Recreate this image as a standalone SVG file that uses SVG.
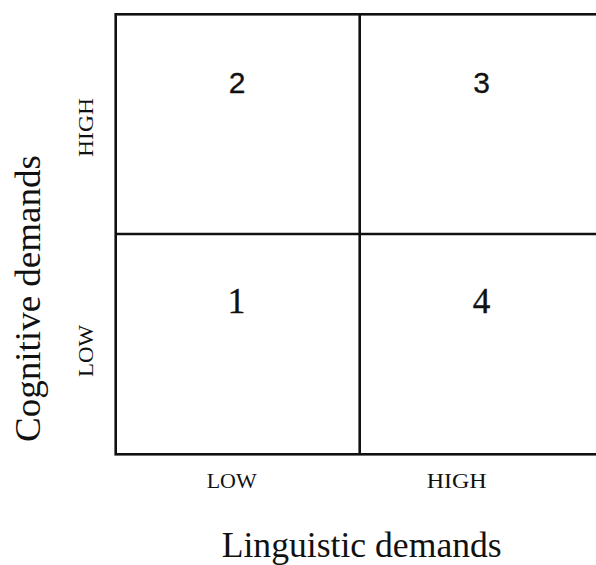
<svg xmlns="http://www.w3.org/2000/svg" width="596" height="565" viewBox="0 0 596 565">
<style>
.grid{fill:none;stroke:#111;stroke-width:2.6}
.num-sans{font-family:"Liberation Sans",Arial,sans-serif;font-size:30px;fill:#111;text-anchor:middle;stroke:#111;stroke-width:0.3}
.num-serif{font-family:"Liberation Serif","Times New Roman",serif;font-size:35px;fill:#111;text-anchor:middle;stroke:#111;stroke-width:0.4}
.lvl{font-family:"Liberation Serif","Times New Roman",serif;font-size:22px;fill:#111;text-anchor:middle}
.axis{font-family:"Liberation Serif","Times New Roman",serif;font-size:36px;fill:#111;text-anchor:middle}
</style>
<rect width="596" height="565" fill="#fff"/>
<g id="connectors">
<rect class="grid" x="115.7" y="14.3" width="500" height="440"/>
<line class="grid" x1="359.7" y1="14.3" x2="359.7" y2="454.3"/>
<line class="grid" x1="115.7" y1="234" x2="610" y2="234"/>
</g>
<g id="q2"><text class="num-sans" x="237" y="93">2</text></g>
<g id="q3"><text class="num-sans" x="481.7" y="93">3</text></g>
<g id="q1"><text class="num-serif" x="236.5" y="313">1</text></g>
<g id="q4"><text class="num-serif" x="481.5" y="313">4</text></g>
<g id="x-low"><text class="lvl" x="231.7" y="487.7" textLength="50" lengthAdjust="spacingAndGlyphs">LOW</text></g>
<g id="x-high"><text class="lvl" x="456.7" y="487.7" textLength="60" lengthAdjust="spacingAndGlyphs">HIGH</text></g>
<g id="y-high"><text class="lvl" transform="translate(93 127.5) rotate(-90)" x="0" y="0" textLength="59" lengthAdjust="spacingAndGlyphs">HIGH</text></g>
<g id="y-low"><text class="lvl" transform="translate(93 351) rotate(-90)" x="0" y="0" textLength="52" lengthAdjust="spacingAndGlyphs">LOW</text></g>
<g id="x-axis"><text class="axis" x="361.7" y="556.7" textLength="280" lengthAdjust="spacingAndGlyphs">Linguistic demands</text></g>
<g id="y-axis"><text class="axis" transform="translate(40 298.5) rotate(-90)" x="0" y="0" textLength="287" lengthAdjust="spacingAndGlyphs">Cognitive demands</text></g>
</svg>
